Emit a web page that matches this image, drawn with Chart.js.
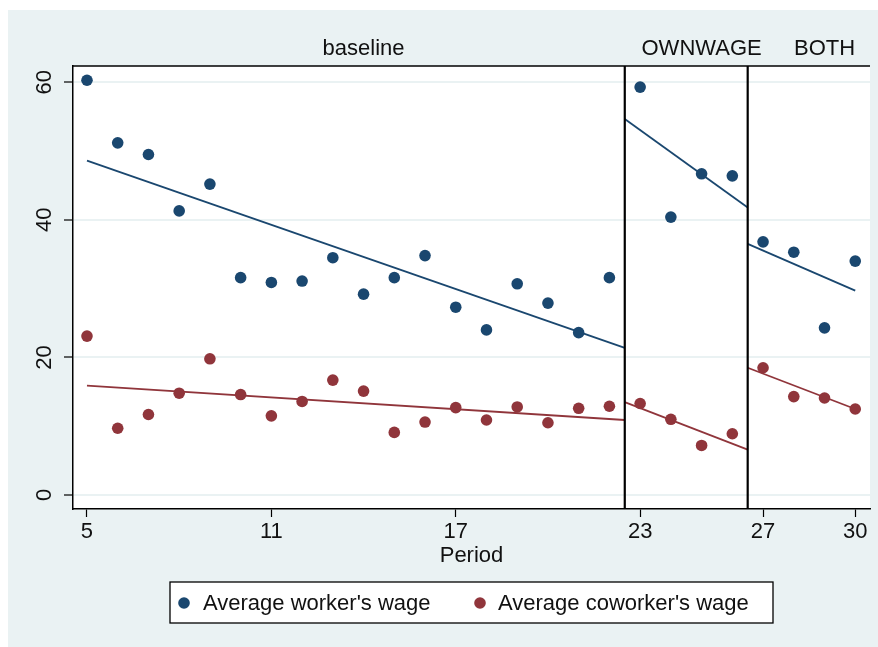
<!DOCTYPE html>
<html>
<head>
<meta charset="utf-8">
<script src="https://cdn.jsdelivr.net/npm/chart.js@4/dist/chart.umd.min.js"></script>
<style>
  body{margin:0;background:#fff;}
  canvas{display:block;}
</style>
</head>
<body>
<canvas id="myChart" width="878" height="647"></canvas>
<script>
const periods = [5,6,7,8,9,10,11,12,13,14,15,16,17,18,19,20,21,22,23,24,25,26,27,28,29,30];
const workerWage = [60.3,51.2,49.5,41.3,45.2,31.6,30.9,31.1,34.5,29.2,31.6,34.8,27.3,24.0,30.7,27.9,23.6,31.6,59.3,40.4,46.7,46.4,36.8,35.3,24.3,34.0];
const coworkerWage = [23.1,9.7,11.7,14.8,19.8,14.6,11.5,13.6,16.7,15.1,9.1,10.6,12.7,10.9,12.8,10.5,12.6,12.9,13.3,11.0,7.2,8.9,18.5,14.3,14.1,12.5];

// fitted lines, one segment per treatment phase (start, end)
const fitX = [[5,22.5],[22.5,26.5],[26.5,30]];
const workerFit = [[48.6,21.4],[54.65,41.8],[36.5,29.7]];
const coworkerFit = [[15.9,10.9],[13.5,6.6],[18.5,12.5]];

const phaseBreaks = [22.5,26.5];
const phaseLabels = ["baseline","OWNWAGE","BOTH"];
const phaseLabelX = [14,25,29];

const xTicks = [5,11,17,23,27,30];
const yTicks = [0,20,40,60];
const seriesNames = ["Average worker's wage","Average coworker's wage"];

const BLUE = "#1a476f";
const RED = "#90353b";
const BG = "#eaf2f3";
const FONT = "'Liberation Sans', Arial, sans-serif";

function pts(xs, ys){
    return xs.map((x,i)=>({x:x,y:ys[i]}));
}

const datasets = [
    {label:seriesNames[0],data:pts(periods,workerWage),backgroundColor:BLUE,pointRadius:5.8,borderWidth:0,showLine:false},
    {label:seriesNames[1],data:pts(periods,coworkerWage),backgroundColor:RED,pointRadius:5.8,borderWidth:0,showLine:false}
];
fitX.forEach((seg,i)=>{
    datasets.push({data:pts(seg,workerFit[i]),showLine:true,borderColor:BLUE,borderWidth:1.8,pointRadius:0});
    datasets.push({data:pts(seg,coworkerFit[i]),showLine:true,borderColor:RED,borderWidth:1.8,pointRadius:0});
});

const decor = {
    id:'decor',
    beforeDraw(chart){
        const ctx = chart.ctx, a = chart.chartArea;
        ctx.save();
        ctx.fillStyle = "#fff";
        ctx.fillRect(0,0,chart.width,chart.height);
        ctx.fillStyle = BG;
        ctx.fillRect(8,10,chart.width-8,chart.height-10);
        ctx.fillStyle = "#fff";
        ctx.fillRect(a.left,a.top,a.right-a.left,a.bottom-a.top);
        ctx.restore();
    },
    afterDraw(chart){
        const ctx = chart.ctx, a = chart.chartArea;
        const xs = chart.scales.x, ys = chart.scales.y;
        ctx.save();
        // top frame line
        ctx.strokeStyle = "#000";
        ctx.lineWidth = 1.5;
        ctx.beginPath();
        ctx.moveTo(a.left,a.top);
        ctx.lineTo(a.right,a.top);
        ctx.stroke();
        // phase breaks
        ctx.lineWidth = 2.2;
        phaseBreaks.forEach(v=>{
            const px = xs.getPixelForValue(v);
            ctx.beginPath();
            ctx.moveTo(px,a.top);
            ctx.lineTo(px,a.bottom);
            ctx.stroke();
        });
        ctx.fillStyle = "#111";
        ctx.font = "22px " + FONT;
        ctx.textAlign = "center";
        ctx.textBaseline = "alphabetic";
        phaseLabels.forEach((t,i)=>{
            ctx.fillText(t, xs.getPixelForValue(phaseLabelX[i]), 55);
        });
        // y tick labels, rotated
        yTicks.forEach(v=>{
            ctx.save();
            ctx.translate(44, ys.getPixelForValue(v));
            ctx.rotate(-Math.PI/2);
            ctx.textBaseline = "middle";
            ctx.fillText(String(v),0,1);
            ctx.restore();
        });
        // x title
        ctx.fillText("Period",(a.left+a.right)/2,562);
        // legend
        ctx.fillStyle = "#fff";
        ctx.fillRect(170,582,603,41);
        ctx.strokeStyle = "#000";
        ctx.lineWidth = 1.3;
        ctx.strokeRect(170,582,603,41);
        const items = [[184,203,BLUE],[480,498,RED]];
        items.forEach((it,i)=>{
            ctx.fillStyle = it[2];
            ctx.beginPath();
            ctx.arc(it[0],603,5.8,0,Math.PI*2);
            ctx.fill();
            ctx.fillStyle = "#111";
            ctx.textAlign = "left";
            ctx.textBaseline = "middle";
            ctx.fillText(seriesNames[i],it[1],604);
        });
        ctx.restore();
    }
};

new Chart(document.getElementById('myChart').getContext('2d'),{
    type:'scatter',
    data:{datasets},
    options:{
        responsive:false,
        animation:false,
        layout:{padding:{left:0,top:66,right:8,bottom:0}},
        plugins:{legend:{display:false},tooltip:{enabled:false}},
        events:[],
        scales:{
            x:{
                type:'linear',min:4.545,max:30.48,
                afterBuildTicks(s){ s.ticks = xTicks.map(v=>({value:v})); },
                afterFit(s){ s.height = 138; },
                grid:{display:true,drawOnChartArea:false,tickLength:8,tickColor:"#000",tickWidth:1.2},
                border:{display:true,color:"#000",width:1.5},
                ticks:{autoSkip:false,maxRotation:0,padding:2,color:"#111",font:{size:22,family:FONT}}
            },
            y:{
                type:'linear',min:-2.04,max:62.37,
                afterBuildTicks(s){ s.ticks = yTicks.map(v=>({value:v})); },
                afterFit(s){ s.width = 73; },
                grid:{color:BG,lineWidth:2,tickLength:9,tickColor:"#000",tickWidth:1.2},
                border:{display:true,color:"#000",width:1.5},
                ticks:{display:false}
            }
        }
    },
    plugins:[decor]
});
</script>
</body>
</html>
